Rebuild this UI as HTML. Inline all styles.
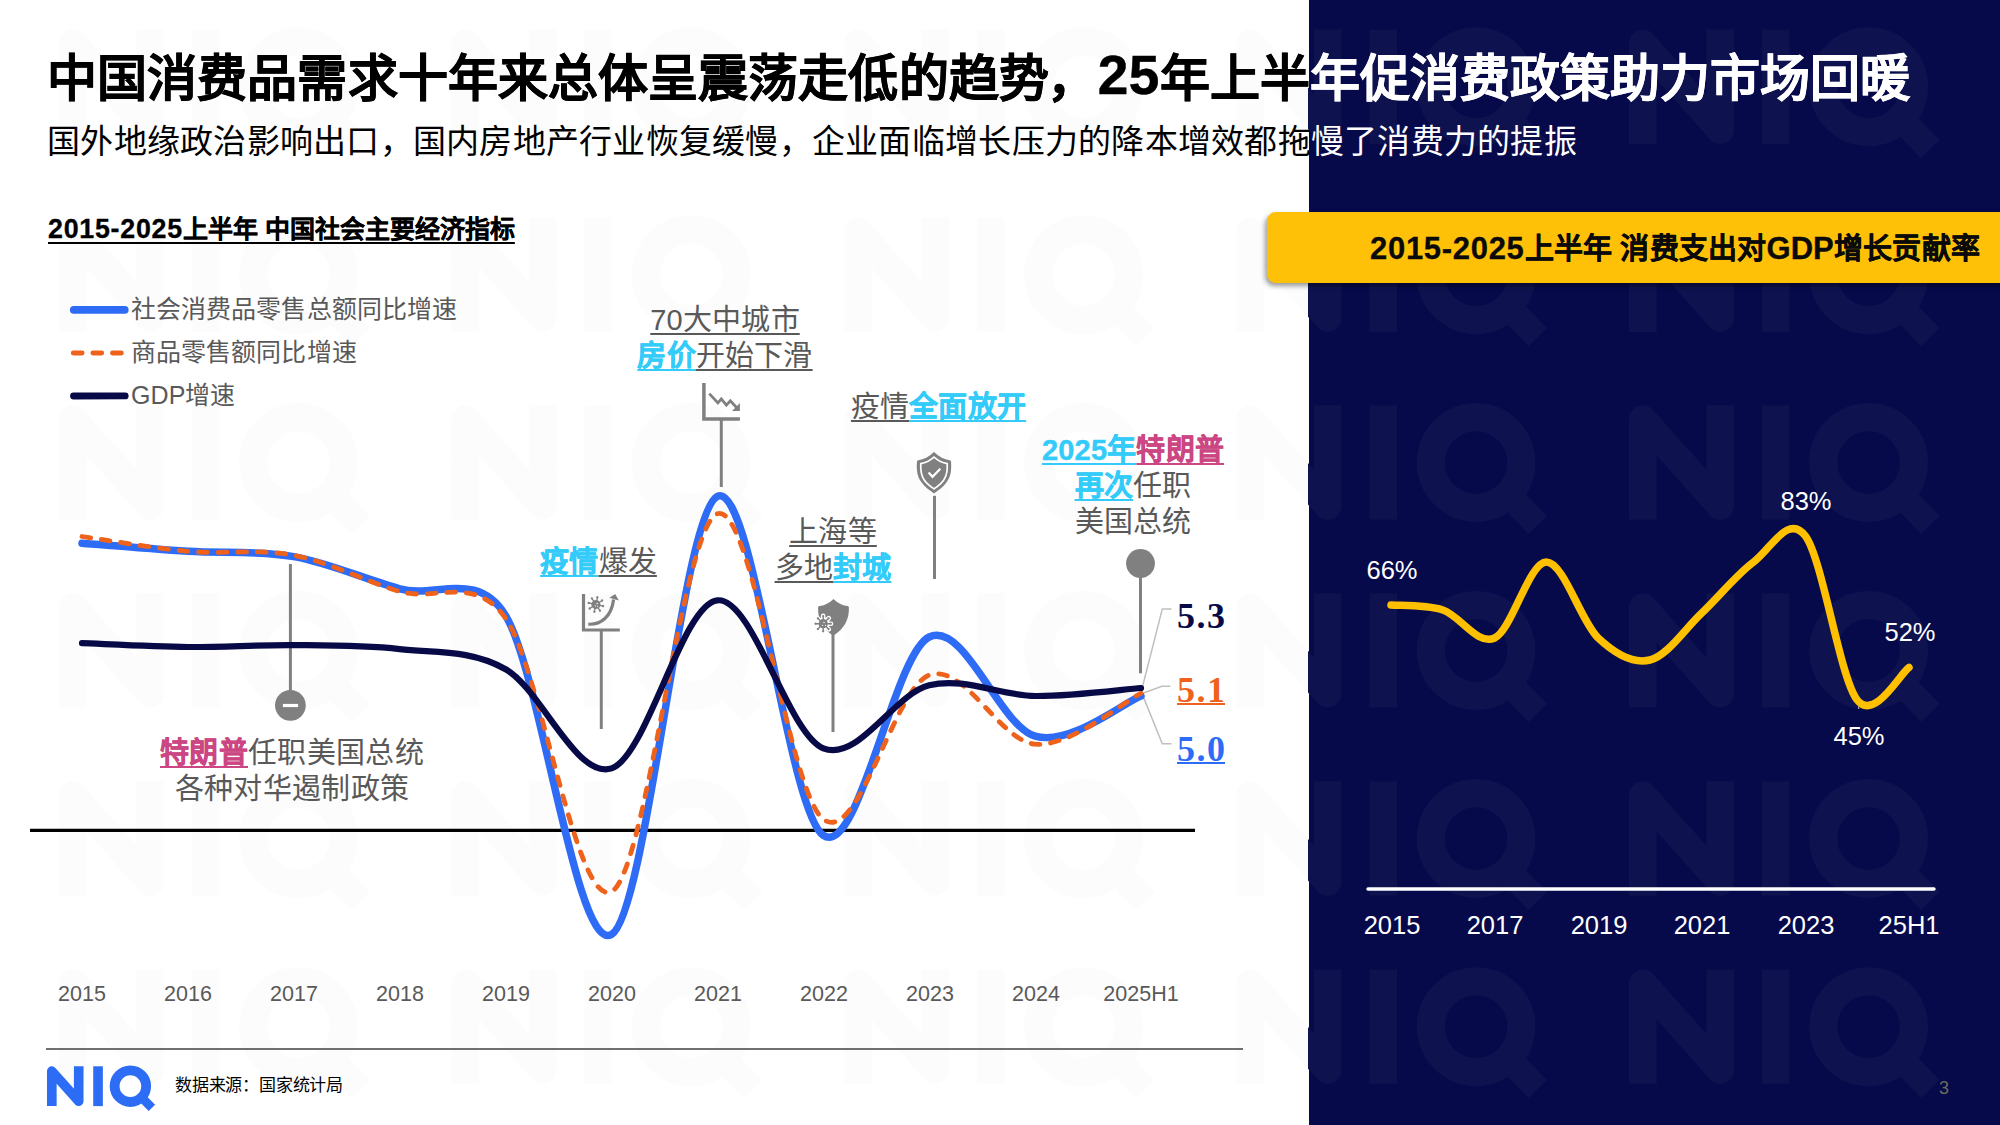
<!DOCTYPE html>
<html lang="zh-CN">
<head>
<meta charset="utf-8">
<title>中国消费品需求十年趋势</title>
<style>
*{margin:0;padding:0;box-sizing:border-box}
html,body{width:2000px;height:1125px;overflow:hidden;background:#fff}
body{font-family:"Liberation Sans",sans-serif;position:relative;color:#000}
.abs{position:absolute;white-space:nowrap}
#navy{left:1308.5px;top:0;width:692px;height:1125px;background:#06094a}
svg{position:absolute;left:0;top:0}
.title{left:47px;top:43.5px;font-size:50px;font-weight:bold;line-height:70px;-webkit-text-stroke:.5px currentColor}
.sub{left:47px;top:118.5px;font-size:33px;line-height:46px;letter-spacing:.26px}
.w{color:#fff}
.h1{-webkit-text-stroke:.3px currentColor;left:48px;top:211.5px;font-size:25px;font-weight:bold;line-height:34px;text-decoration:underline;text-decoration-thickness:1.6px;text-underline-offset:4px}
#banner{left:1267px;top:212px;width:760px;height:71px;background:#ffc107;border-radius:9px;box-shadow:-2px 3px 5px rgba(0,0,0,.4)}
.h2{-webkit-text-stroke:.3px currentColor;left:1370px;top:229px;font-size:29px;letter-spacing:.2px;font-weight:bold;line-height:40px;color:#0a0a0a}
.lg{left:131px;font-size:25px;letter-spacing:.08px;line-height:34px;color:#595959}
.ax{font-size:21.5px;line-height:28px;color:#595959;width:120px;text-align:center}
.rax{font-size:25.5px;line-height:32px;color:#fff;width:120px;text-align:center}
.an{font-size:29px;letter-spacing:.2px;line-height:36px;color:#595959;text-align:center}
.an u{text-decoration-thickness:2px;text-underline-offset:3.4px}
.c{color:#33cbf9;font-weight:bold;-webkit-text-stroke:.4px currentColor}
.p{color:#cb4682;font-weight:bold;-webkit-text-stroke:.4px currentColor}
.val{font-family:"Liberation Serif",serif;font-weight:bold;font-size:36px;line-height:40px;letter-spacing:1.5px}
.src{left:175px;top:1073.8px;font-size:17px;letter-spacing:-.2px;line-height:24px;color:#000}
.pg{left:1939px;top:1076px;font-size:18px;line-height:24px;color:#6b6b5a}
</style>
</head>
<body>
<div id="navy" class="abs"></div>

<svg width="2000" height="1125" viewBox="0 0 2000 1125">
  <defs>
    <clipPath id="cw"><rect x="0" y="0" width="1308" height="1125"/></clipPath>
    <clipPath id="cn"><rect x="1308" y="0" width="692" height="1125"/></clipPath>
    <g id="wm"><g transform="translate(59.0,29.6)"><polyline points="13.85,114.4 13.85,13.85 91.15,100.5 91.15,0" fill="none" stroke-width="27.7" stroke-linejoin="round"/><rect x="132.8" y="0" width="27.7" height="114.4" stroke="none"/><circle cx="239.6" cy="57.2" r="45.3" fill="none" stroke-width="28.3"/><line x1="271" y1="88.5" x2="301.4" y2="119.6" stroke-width="26"/></g><g transform="translate(451.5,29.6)"><polyline points="13.85,114.4 13.85,13.85 91.15,100.5 91.15,0" fill="none" stroke-width="27.7" stroke-linejoin="round"/><rect x="132.8" y="0" width="27.7" height="114.4" stroke="none"/><circle cx="239.6" cy="57.2" r="45.3" fill="none" stroke-width="28.3"/><line x1="271" y1="88.5" x2="301.4" y2="119.6" stroke-width="26"/></g><g transform="translate(844.0,29.6)"><polyline points="13.85,114.4 13.85,13.85 91.15,100.5 91.15,0" fill="none" stroke-width="27.7" stroke-linejoin="round"/><rect x="132.8" y="0" width="27.7" height="114.4" stroke="none"/><circle cx="239.6" cy="57.2" r="45.3" fill="none" stroke-width="28.3"/><line x1="271" y1="88.5" x2="301.4" y2="119.6" stroke-width="26"/></g><g transform="translate(1236.5,29.6)"><polyline points="13.85,114.4 13.85,13.85 91.15,100.5 91.15,0" fill="none" stroke-width="27.7" stroke-linejoin="round"/><rect x="132.8" y="0" width="27.7" height="114.4" stroke="none"/><circle cx="239.6" cy="57.2" r="45.3" fill="none" stroke-width="28.3"/><line x1="271" y1="88.5" x2="301.4" y2="119.6" stroke-width="26"/></g><g transform="translate(1629.0,29.6)"><polyline points="13.85,114.4 13.85,13.85 91.15,100.5 91.15,0" fill="none" stroke-width="27.7" stroke-linejoin="round"/><rect x="132.8" y="0" width="27.7" height="114.4" stroke="none"/><circle cx="239.6" cy="57.2" r="45.3" fill="none" stroke-width="28.3"/><line x1="271" y1="88.5" x2="301.4" y2="119.6" stroke-width="26"/></g><g transform="translate(59.0,217.5)"><polyline points="13.85,114.4 13.85,13.85 91.15,100.5 91.15,0" fill="none" stroke-width="27.7" stroke-linejoin="round"/><rect x="132.8" y="0" width="27.7" height="114.4" stroke="none"/><circle cx="239.6" cy="57.2" r="45.3" fill="none" stroke-width="28.3"/><line x1="271" y1="88.5" x2="301.4" y2="119.6" stroke-width="26"/></g><g transform="translate(451.5,217.5)"><polyline points="13.85,114.4 13.85,13.85 91.15,100.5 91.15,0" fill="none" stroke-width="27.7" stroke-linejoin="round"/><rect x="132.8" y="0" width="27.7" height="114.4" stroke="none"/><circle cx="239.6" cy="57.2" r="45.3" fill="none" stroke-width="28.3"/><line x1="271" y1="88.5" x2="301.4" y2="119.6" stroke-width="26"/></g><g transform="translate(844.0,217.5)"><polyline points="13.85,114.4 13.85,13.85 91.15,100.5 91.15,0" fill="none" stroke-width="27.7" stroke-linejoin="round"/><rect x="132.8" y="0" width="27.7" height="114.4" stroke="none"/><circle cx="239.6" cy="57.2" r="45.3" fill="none" stroke-width="28.3"/><line x1="271" y1="88.5" x2="301.4" y2="119.6" stroke-width="26"/></g><g transform="translate(1236.5,217.5)"><polyline points="13.85,114.4 13.85,13.85 91.15,100.5 91.15,0" fill="none" stroke-width="27.7" stroke-linejoin="round"/><rect x="132.8" y="0" width="27.7" height="114.4" stroke="none"/><circle cx="239.6" cy="57.2" r="45.3" fill="none" stroke-width="28.3"/><line x1="271" y1="88.5" x2="301.4" y2="119.6" stroke-width="26"/></g><g transform="translate(1629.0,217.5)"><polyline points="13.85,114.4 13.85,13.85 91.15,100.5 91.15,0" fill="none" stroke-width="27.7" stroke-linejoin="round"/><rect x="132.8" y="0" width="27.7" height="114.4" stroke="none"/><circle cx="239.6" cy="57.2" r="45.3" fill="none" stroke-width="28.3"/><line x1="271" y1="88.5" x2="301.4" y2="119.6" stroke-width="26"/></g><g transform="translate(59.0,405.3)"><polyline points="13.85,114.4 13.85,13.85 91.15,100.5 91.15,0" fill="none" stroke-width="27.7" stroke-linejoin="round"/><rect x="132.8" y="0" width="27.7" height="114.4" stroke="none"/><circle cx="239.6" cy="57.2" r="45.3" fill="none" stroke-width="28.3"/><line x1="271" y1="88.5" x2="301.4" y2="119.6" stroke-width="26"/></g><g transform="translate(451.5,405.3)"><polyline points="13.85,114.4 13.85,13.85 91.15,100.5 91.15,0" fill="none" stroke-width="27.7" stroke-linejoin="round"/><rect x="132.8" y="0" width="27.7" height="114.4" stroke="none"/><circle cx="239.6" cy="57.2" r="45.3" fill="none" stroke-width="28.3"/><line x1="271" y1="88.5" x2="301.4" y2="119.6" stroke-width="26"/></g><g transform="translate(844.0,405.3)"><polyline points="13.85,114.4 13.85,13.85 91.15,100.5 91.15,0" fill="none" stroke-width="27.7" stroke-linejoin="round"/><rect x="132.8" y="0" width="27.7" height="114.4" stroke="none"/><circle cx="239.6" cy="57.2" r="45.3" fill="none" stroke-width="28.3"/><line x1="271" y1="88.5" x2="301.4" y2="119.6" stroke-width="26"/></g><g transform="translate(1236.5,405.3)"><polyline points="13.85,114.4 13.85,13.85 91.15,100.5 91.15,0" fill="none" stroke-width="27.7" stroke-linejoin="round"/><rect x="132.8" y="0" width="27.7" height="114.4" stroke="none"/><circle cx="239.6" cy="57.2" r="45.3" fill="none" stroke-width="28.3"/><line x1="271" y1="88.5" x2="301.4" y2="119.6" stroke-width="26"/></g><g transform="translate(1629.0,405.3)"><polyline points="13.85,114.4 13.85,13.85 91.15,100.5 91.15,0" fill="none" stroke-width="27.7" stroke-linejoin="round"/><rect x="132.8" y="0" width="27.7" height="114.4" stroke="none"/><circle cx="239.6" cy="57.2" r="45.3" fill="none" stroke-width="28.3"/><line x1="271" y1="88.5" x2="301.4" y2="119.6" stroke-width="26"/></g><g transform="translate(59.0,593.2)"><polyline points="13.85,114.4 13.85,13.85 91.15,100.5 91.15,0" fill="none" stroke-width="27.7" stroke-linejoin="round"/><rect x="132.8" y="0" width="27.7" height="114.4" stroke="none"/><circle cx="239.6" cy="57.2" r="45.3" fill="none" stroke-width="28.3"/><line x1="271" y1="88.5" x2="301.4" y2="119.6" stroke-width="26"/></g><g transform="translate(451.5,593.2)"><polyline points="13.85,114.4 13.85,13.85 91.15,100.5 91.15,0" fill="none" stroke-width="27.7" stroke-linejoin="round"/><rect x="132.8" y="0" width="27.7" height="114.4" stroke="none"/><circle cx="239.6" cy="57.2" r="45.3" fill="none" stroke-width="28.3"/><line x1="271" y1="88.5" x2="301.4" y2="119.6" stroke-width="26"/></g><g transform="translate(844.0,593.2)"><polyline points="13.85,114.4 13.85,13.85 91.15,100.5 91.15,0" fill="none" stroke-width="27.7" stroke-linejoin="round"/><rect x="132.8" y="0" width="27.7" height="114.4" stroke="none"/><circle cx="239.6" cy="57.2" r="45.3" fill="none" stroke-width="28.3"/><line x1="271" y1="88.5" x2="301.4" y2="119.6" stroke-width="26"/></g><g transform="translate(1236.5,593.2)"><polyline points="13.85,114.4 13.85,13.85 91.15,100.5 91.15,0" fill="none" stroke-width="27.7" stroke-linejoin="round"/><rect x="132.8" y="0" width="27.7" height="114.4" stroke="none"/><circle cx="239.6" cy="57.2" r="45.3" fill="none" stroke-width="28.3"/><line x1="271" y1="88.5" x2="301.4" y2="119.6" stroke-width="26"/></g><g transform="translate(1629.0,593.2)"><polyline points="13.85,114.4 13.85,13.85 91.15,100.5 91.15,0" fill="none" stroke-width="27.7" stroke-linejoin="round"/><rect x="132.8" y="0" width="27.7" height="114.4" stroke="none"/><circle cx="239.6" cy="57.2" r="45.3" fill="none" stroke-width="28.3"/><line x1="271" y1="88.5" x2="301.4" y2="119.6" stroke-width="26"/></g><g transform="translate(59.0,781.3)"><polyline points="13.85,114.4 13.85,13.85 91.15,100.5 91.15,0" fill="none" stroke-width="27.7" stroke-linejoin="round"/><rect x="132.8" y="0" width="27.7" height="114.4" stroke="none"/><circle cx="239.6" cy="57.2" r="45.3" fill="none" stroke-width="28.3"/><line x1="271" y1="88.5" x2="301.4" y2="119.6" stroke-width="26"/></g><g transform="translate(451.5,781.3)"><polyline points="13.85,114.4 13.85,13.85 91.15,100.5 91.15,0" fill="none" stroke-width="27.7" stroke-linejoin="round"/><rect x="132.8" y="0" width="27.7" height="114.4" stroke="none"/><circle cx="239.6" cy="57.2" r="45.3" fill="none" stroke-width="28.3"/><line x1="271" y1="88.5" x2="301.4" y2="119.6" stroke-width="26"/></g><g transform="translate(844.0,781.3)"><polyline points="13.85,114.4 13.85,13.85 91.15,100.5 91.15,0" fill="none" stroke-width="27.7" stroke-linejoin="round"/><rect x="132.8" y="0" width="27.7" height="114.4" stroke="none"/><circle cx="239.6" cy="57.2" r="45.3" fill="none" stroke-width="28.3"/><line x1="271" y1="88.5" x2="301.4" y2="119.6" stroke-width="26"/></g><g transform="translate(1236.5,781.3)"><polyline points="13.85,114.4 13.85,13.85 91.15,100.5 91.15,0" fill="none" stroke-width="27.7" stroke-linejoin="round"/><rect x="132.8" y="0" width="27.7" height="114.4" stroke="none"/><circle cx="239.6" cy="57.2" r="45.3" fill="none" stroke-width="28.3"/><line x1="271" y1="88.5" x2="301.4" y2="119.6" stroke-width="26"/></g><g transform="translate(1629.0,781.3)"><polyline points="13.85,114.4 13.85,13.85 91.15,100.5 91.15,0" fill="none" stroke-width="27.7" stroke-linejoin="round"/><rect x="132.8" y="0" width="27.7" height="114.4" stroke="none"/><circle cx="239.6" cy="57.2" r="45.3" fill="none" stroke-width="28.3"/><line x1="271" y1="88.5" x2="301.4" y2="119.6" stroke-width="26"/></g><g transform="translate(59.0,969.4)"><polyline points="13.85,114.4 13.85,13.85 91.15,100.5 91.15,0" fill="none" stroke-width="27.7" stroke-linejoin="round"/><rect x="132.8" y="0" width="27.7" height="114.4" stroke="none"/><circle cx="239.6" cy="57.2" r="45.3" fill="none" stroke-width="28.3"/><line x1="271" y1="88.5" x2="301.4" y2="119.6" stroke-width="26"/></g><g transform="translate(451.5,969.4)"><polyline points="13.85,114.4 13.85,13.85 91.15,100.5 91.15,0" fill="none" stroke-width="27.7" stroke-linejoin="round"/><rect x="132.8" y="0" width="27.7" height="114.4" stroke="none"/><circle cx="239.6" cy="57.2" r="45.3" fill="none" stroke-width="28.3"/><line x1="271" y1="88.5" x2="301.4" y2="119.6" stroke-width="26"/></g><g transform="translate(844.0,969.4)"><polyline points="13.85,114.4 13.85,13.85 91.15,100.5 91.15,0" fill="none" stroke-width="27.7" stroke-linejoin="round"/><rect x="132.8" y="0" width="27.7" height="114.4" stroke="none"/><circle cx="239.6" cy="57.2" r="45.3" fill="none" stroke-width="28.3"/><line x1="271" y1="88.5" x2="301.4" y2="119.6" stroke-width="26"/></g><g transform="translate(1236.5,969.4)"><polyline points="13.85,114.4 13.85,13.85 91.15,100.5 91.15,0" fill="none" stroke-width="27.7" stroke-linejoin="round"/><rect x="132.8" y="0" width="27.7" height="114.4" stroke="none"/><circle cx="239.6" cy="57.2" r="45.3" fill="none" stroke-width="28.3"/><line x1="271" y1="88.5" x2="301.4" y2="119.6" stroke-width="26"/></g><g transform="translate(1629.0,969.4)"><polyline points="13.85,114.4 13.85,13.85 91.15,100.5 91.15,0" fill="none" stroke-width="27.7" stroke-linejoin="round"/><rect x="132.8" y="0" width="27.7" height="114.4" stroke="none"/><circle cx="239.6" cy="57.2" r="45.3" fill="none" stroke-width="28.3"/><line x1="271" y1="88.5" x2="301.4" y2="119.6" stroke-width="26"/></g></g>
  </defs>
  <g clip-path="url(#cw)" stroke="#fcfcfc" fill="#fcfcfc"><use href="#wm"/></g>
  <g clip-path="url(#cn)" stroke="#0e124e" fill="#0e124e"><use href="#wm"/></g>
</svg>

<div class="abs title"><span style="letter-spacing:.09px">中国消费品需求十年来总体呈震荡走低的趋势</span><span style="margin-left:-2px;margin-right:1px">，</span><span style="font-size:55px;letter-spacing:.3px;position:relative;top:-2px;line-height:0">25</span><span style="letter-spacing:.05px">年上半<span class="w">年促消费政策助力市场回暖</span></span></div>
<div class="abs sub">国外地缘政治影响出口，国内房地产行业恢复缓慢，企业面临增长压力的降本增效都拖<span class="w">慢了消费力的提振</span></div>

<div class="abs h1"><span style="font-size:26.8px;letter-spacing:.75px;line-height:0">2015-2025</span>上半年 中国社会主要经济指标</div>

<div id="banner" class="abs"></div>
<div class="abs h2"><span style="font-size:31px;letter-spacing:.7px;line-height:0">2015-2025</span>上半年 消费支出对<span style="font-size:31px;letter-spacing:.1px;line-height:0">GDP</span>增长贡献率</div>

<svg width="2000" height="1125" viewBox="0 0 2000 1125" fill="none">
  <!-- legend samples -->
  <line x1="73.7" y1="309.9" x2="124.8" y2="309.9" stroke="#2e6cf6" stroke-width="7.6" stroke-linecap="round"/>
  <line x1="73.3" y1="353" x2="122" y2="353" stroke="#ee621b" stroke-width="4.9" stroke-dasharray="8.8,10.8" stroke-linecap="round"/>
  <line x1="73.5" y1="396" x2="125.2" y2="395.9" stroke="#070a47" stroke-width="6.8" stroke-linecap="round"/>

  <!-- leader lines -->
  <g stroke="#808080" stroke-width="3">
    <line x1="290.4" y1="564" x2="290.4" y2="692"/>
    <line x1="601.3" y1="631" x2="601.3" y2="729"/>
    <line x1="721.3" y1="420" x2="721.3" y2="487"/>
    <line x1="833" y1="634" x2="833" y2="732"/>
    <line x1="934.5" y1="495.8" x2="934.5" y2="579"/>
    <line x1="1140.5" y1="574" x2="1140.5" y2="673.3"/>
  </g>
  <g stroke="#bfbfbf" stroke-width="1.5">
    <polyline points="1142.7,686 1162.3,608.9 1171.5,608.9"/>
    <polyline points="1142.7,693.2 1161.9,686.2 1170.4,686.2"/>
    <polyline points="1143.7,697.9 1162.3,743.8 1171.5,743.8"/>
  </g>

  <!-- icon: falling chart -->
  <g stroke="#808080" fill="none">
    <polyline points="703.9,383.1 703.9,418.9 739.9,418.9" stroke-width="3.5"/>
    <polyline points="709.3,393.6 717.9,402.9 721.3,398.9 726.4,405.1 730.3,400.9 737,408" stroke-width="2.8"/>
    <polygon points="739.9,403.1 739.9,410.9 732,410.9" fill="#808080" stroke="none"/>
  </g>
  <!-- icon: virus growth chart -->
  <g stroke="#808080" fill="none">
    <polyline points="583.5,594 583.5,630 619.8,630" stroke-width="3.2"/>
    <path d="M588.3,624.2 C601,624.8 611.5,616.5 613.6,599.5" stroke-width="3.2"/>
    <polygon points="609.3,597.8 615.2,594 618.9,600.6" fill="#808080" stroke="none"/>
    <g transform="translate(595.9,604.5) rotate(12)">
      <circle r="4.6" fill="#808080" stroke="none"/>
      <g stroke="#808080" stroke-width="1.3"><line x1="0" y1="0" x2="7.40" y2="0.00"/><line x1="0" y1="0" x2="5.23" y2="5.23"/><line x1="0" y1="0" x2="0.00" y2="7.40"/><line x1="0" y1="0" x2="-5.23" y2="5.23"/><line x1="0" y1="0" x2="-7.40" y2="0.00"/><line x1="0" y1="0" x2="-5.23" y2="-5.23"/><line x1="0" y1="0" x2="-0.00" y2="-7.40"/><line x1="0" y1="0" x2="5.23" y2="-5.23"/></g>
      <g fill="#808080" stroke="none"><circle cx="7.40" cy="0.00" r="1.15"/><circle cx="5.23" cy="5.23" r="1.15"/><circle cx="0.00" cy="7.40" r="1.15"/><circle cx="-5.23" cy="5.23" r="1.15"/><circle cx="-7.40" cy="0.00" r="1.15"/><circle cx="-5.23" cy="-5.23" r="1.15"/><circle cx="-0.00" cy="-7.40" r="1.15"/><circle cx="5.23" cy="-5.23" r="1.15"/></g>
      <circle cx="1" cy="-1.2" r=".7" fill="#fff" stroke="none"/><circle cx="-.3" cy="1.4" r=".6" fill="#fff" stroke="none"/><circle cx="2" cy="1.4" r=".6" fill="#fff" stroke="none"/>
    </g>
  </g>
  <!-- icon: shield + virus -->
  <g>
    <path d="M833.5,599 C838,603.5 843,605.8 847.6,606.1 Q848.9,606.2 848.9,607.6 C849.3,620 844,629 833.3,635.8 C822.5,629 817.7,620 818.1,607.6 Q818.1,606.2 819.4,606.1 C824,605.8 829,603.5 833.5,599 Z" fill="#808080"/>
    <g transform="translate(823.2,623.7)">
      <g stroke="#fff" stroke-width="4.6" stroke-linecap="round">
        <line x1="0" y1="-7.8" x2="0" y2="7.8"/><line x1="-7.8" y1="0" x2="7.8" y2="0"/>
        <line x1="-5.6" y1="-5.6" x2="5.6" y2="5.6"/><line x1="-5.6" y1="5.6" x2="5.6" y2="-5.6"/>
      </g>
      <circle r="6.2" fill="#fff"/>
      <g stroke="#808080" stroke-width="1.4" stroke-linecap="round">
        <line x1="0" y1="-7.6" x2="0" y2="7.6"/><line x1="-7.6" y1="0" x2="7.6" y2="0"/>
        <line x1="-5.4" y1="-5.4" x2="5.4" y2="5.4"/><line x1="-5.4" y1="5.4" x2="5.4" y2="-5.4"/>
      </g>
      <g fill="#808080"><circle cx="0" cy="-7.6" r="1.1"/><circle cx="0" cy="7.6" r="1.1"/><circle cx="-7.6" cy="0" r="1.1"/><circle cx="7.6" cy="0" r="1.1"/><circle cx="-5.4" cy="-5.4" r="1.1"/><circle cx="5.4" cy="5.4" r="1.1"/><circle cx="-5.4" cy="5.4" r="1.1"/><circle cx="5.4" cy="-5.4" r="1.1"/></g>
      <circle r="4.6" fill="#808080"/>
      <circle cx=".8" cy="-1.2" r=".7" fill="#fff"/><circle cx="-.6" cy="1.6" r=".6" fill="#fff"/><circle cx="2.2" cy="1.6" r=".6" fill="#fff"/>
    </g>
  </g>
  <!-- icon: shield + check -->
  <g>
    <path id="shc" d="M934,452.1 C939,457 944.5,459.6 949.6,460.2 Q951.1,460.4 951.1,462 C951.6,471 950.5,477 946.9,481.7 C943.5,486.5 939,490 934,493.4 C929,490 924.5,486.5 921.1,481.7 C917.5,477 916.4,471 916.9,462 Q916.9,460.4 918.4,460.2 C923.5,459.6 929,457 934,452.1 Z" fill="#808080"/>
    <path d="M934,457.2 C938.2,460.8 942.6,462.9 947.2,463.7 C947.6,471 946.6,476 943.8,479.9 C941.2,483.6 937.8,486.2 934,488.9 C930.2,486.2 926.8,483.6 924.2,479.9 C921.4,476 920.4,471 920.8,463.7 C925.4,462.9 929.8,460.8 934,457.2 Z" fill="none" stroke="#fff" stroke-width="1.7"/>
    <polyline points="928.6,472.6 932.5,476.8 940.3,468.7" fill="none" stroke="#fff" stroke-width="2.2"/>
  </g>

  <!-- zero axis -->
  <line x1="30" y1="830.3" x2="1195" y2="830.3" stroke="#000" stroke-width="3.2"/>

  <!-- series -->
  <path d="M82.0,543.2 C99.7,544.6 152.6,549.0 187.9,551.3 C223.2,553.5 258.5,550.4 293.8,556.6 C329.1,562.9 364.4,579.0 399.7,588.8 C435.0,598.6 477.1,569.0 505.6,615.6 C540.9,673.2 576.2,954.4 611.5,934.5 C646.8,914.6 682.1,512.9 717.4,496.3 C752.7,479.8 788.0,811.9 823.3,835.4 C858.6,858.8 893.9,653.6 929.2,637.0 C964.5,620.5 999.8,726.4 1035.1,736.2 C1070.4,746.0 1123.3,702.7 1141.0,696.0" stroke="#2e6cf6" stroke-width="7.5" stroke-linecap="round" stroke-linejoin="round"/>
  <path d="M82.0,536.5 C99.7,539.0 152.6,548.2 187.9,551.3 C223.2,554.4 258.5,548.6 293.8,555.3 C329.1,562.0 364.4,581.0 399.7,591.5 C435.0,602.0 474.1,573.7 505.6,618.3 C540.9,668.3 576.2,909.1 611.5,891.6 C646.8,874.2 682.1,525.8 717.4,513.8 C752.7,501.7 788.0,792.4 823.3,819.3 C858.6,846.2 893.9,687.6 929.2,675.1 C964.5,662.6 999.8,741.2 1035.1,744.2 C1070.4,747.3 1123.3,701.8 1141.0,693.3" stroke="#ee621b" stroke-width="4.8" stroke-dasharray="8.8,10.8" stroke-linecap="round" stroke-linejoin="round"/>
  <path d="M82.0,643.2 C99.7,643.8 152.6,646.6 187.9,647.0 C223.2,647.3 258.5,644.7 293.8,645.1 C329.1,645.4 364.4,645.1 399.7,649.1 C435.0,653.1 470.3,649.3 505.6,669.2 C540.9,689.1 576.2,779.8 611.5,768.4 C646.8,756.9 682.1,603.7 717.4,600.3 C752.7,597.0 788.0,734.1 823.3,748.3 C858.6,762.4 893.9,694.0 929.2,685.3 C964.5,676.6 999.8,695.6 1035.1,696.0 C1070.4,696.4 1123.3,689.3 1141.0,688.0" stroke="#070a47" stroke-width="6.2" stroke-linecap="round" stroke-linejoin="round"/>

  <!-- markers -->
  <circle cx="290.4" cy="705.3" r="15.4" fill="#808080"/>
  <rect x="282.9" y="703.9" width="15.2" height="3.2" fill="#fff"/>
  <circle cx="1140.5" cy="563.5" r="14.4" fill="#808080"/>

  <!-- right chart -->
  <line x1="1368" y1="889" x2="1934" y2="889" stroke="#fff" stroke-width="3.4" stroke-linecap="round"/>
  <line x1="1858.7" y1="699" x2="1858.7" y2="709" stroke="#bfbfbf" stroke-width="1"/>
  <path d="M1391.0,605.0 C1399.6,605.8 1425.5,604.5 1442.8,610.0 C1460.1,615.5 1477.3,646.0 1494.6,638.0 C1511.9,630.0 1529.1,562.0 1546.4,562.0 C1563.7,562.0 1580.9,621.7 1598.2,638.0 C1615.5,654.3 1632.7,664.2 1650.0,660.0 C1667.3,655.8 1684.5,629.3 1701.8,613.0 C1719.1,596.7 1736.3,574.8 1753.6,562.0 C1770.9,549.2 1788.1,513.0 1805.4,536.0 C1822.7,559.0 1839.9,678.1 1857.2,700.0 C1874.5,721.9 1900.4,672.9 1909.0,667.5" stroke="#ffc000" stroke-width="7.5" stroke-linecap="round" stroke-linejoin="round"/>

  <!-- footer rule -->
  <line x1="46" y1="1049" x2="1243" y2="1049" stroke="#404040" stroke-width="1.6"/>

  <!-- NIQ logo -->
  <g transform="translate(47,1066.3) scale(0.348)" stroke="#2d6df6" fill="#2d6df6">
    <polyline points="13.85,114.4 13.85,13.85 91.15,100.5 91.15,0" fill="none" stroke-width="27.7" stroke-linejoin="round"/>
    <rect x="132.8" y="0" width="27.7" height="114.4" stroke="none"/>
    <circle cx="239.6" cy="57.2" r="45.3" fill="none" stroke-width="28.3"/>
    <line x1="271" y1="88.5" x2="301.4" y2="119.6" stroke-width="26"/>
  </g>
</svg>

<!-- legend -->
<div class="abs lg" style="top:292px">社会消费品零售总额同比增速</div>
<div class="abs lg" style="top:335px">商品零售额同比增速</div>
<div class="abs lg" style="top:378px">GDP增速</div>

<!-- annotations -->
<div class="abs an" style="left:120px;width:344px;top:735px;letter-spacing:.33px"><u class="p">特朗普</u>任职美国总统<br>各种对华遏制政策</div>
<div class="abs an" style="left:498.5px;width:200px;top:544px"><u class="c">疫情</u><u>爆发</u></div>
<div class="abs an" style="left:600px;width:250px;top:302px"><u>70大中城市</u><br><u class="c">房价</u><u>开始下滑</u></div>
<div class="abs an" style="left:733px;width:200px;top:514px"><u>上海等</u><br><u>多地</u><u class="c">封城</u></div>
<div class="abs an" style="left:828.5px;width:220px;top:389px"><u>疫情</u><u class="c">全面放开</u></div>
<div class="abs an" style="left:1008px;width:250px;top:432px"><u class="c">2025年</u><u class="p">特朗普</u><br><u class="c">再次</u>任职<br>美国总统</div>

<!-- end values -->
<div class="abs val" style="left:1177px;top:596px;color:#070a47">5.3</div>
<div class="abs val" style="left:1177px;top:670px;color:#ee621b;text-decoration:underline;text-decoration-thickness:2px">5.<span style="letter-spacing:0">1</span></div>
<div class="abs val" style="left:1177px;top:729px;color:#2e6cf6;text-decoration:underline;text-decoration-thickness:2px">5.<span style="letter-spacing:0">0</span></div>

<!-- left axis -->
<div class="abs ax" style="left:22px;top:979.8px">2015</div>
<div class="abs ax" style="left:128px;top:979.8px">2016</div>
<div class="abs ax" style="left:234px;top:979.8px">2017</div>
<div class="abs ax" style="left:340px;top:979.8px">2018</div>
<div class="abs ax" style="left:446px;top:979.8px">2019</div>
<div class="abs ax" style="left:552px;top:979.8px">2020</div>
<div class="abs ax" style="left:658px;top:979.8px">2021</div>
<div class="abs ax" style="left:764px;top:979.8px">2022</div>
<div class="abs ax" style="left:870px;top:979.8px">2023</div>
<div class="abs ax" style="left:976px;top:979.8px">2024</div>
<div class="abs ax" style="left:1081px;top:979.8px">2025H1</div>

<!-- right axis -->
<div class="abs rax" style="left:1332px;top:909px">2015</div>
<div class="abs rax" style="left:1435px;top:909px">2017</div>
<div class="abs rax" style="left:1539px;top:909px">2019</div>
<div class="abs rax" style="left:1642px;top:909px">2021</div>
<div class="abs rax" style="left:1746px;top:909px">2023</div>
<div class="abs rax" style="left:1849px;top:909px">25H1</div>

<!-- right values -->
<div class="abs rax" style="left:1332px;top:554px">66%</div>
<div class="abs rax" style="left:1746px;top:485px">83%</div>
<div class="abs rax" style="left:1799px;top:720px">45%</div>
<div class="abs rax" style="left:1850px;top:616px">52%</div>

<div class="abs src">数据来源：国家统计局</div>
<div class="abs pg">3</div>
</body>
</html>
